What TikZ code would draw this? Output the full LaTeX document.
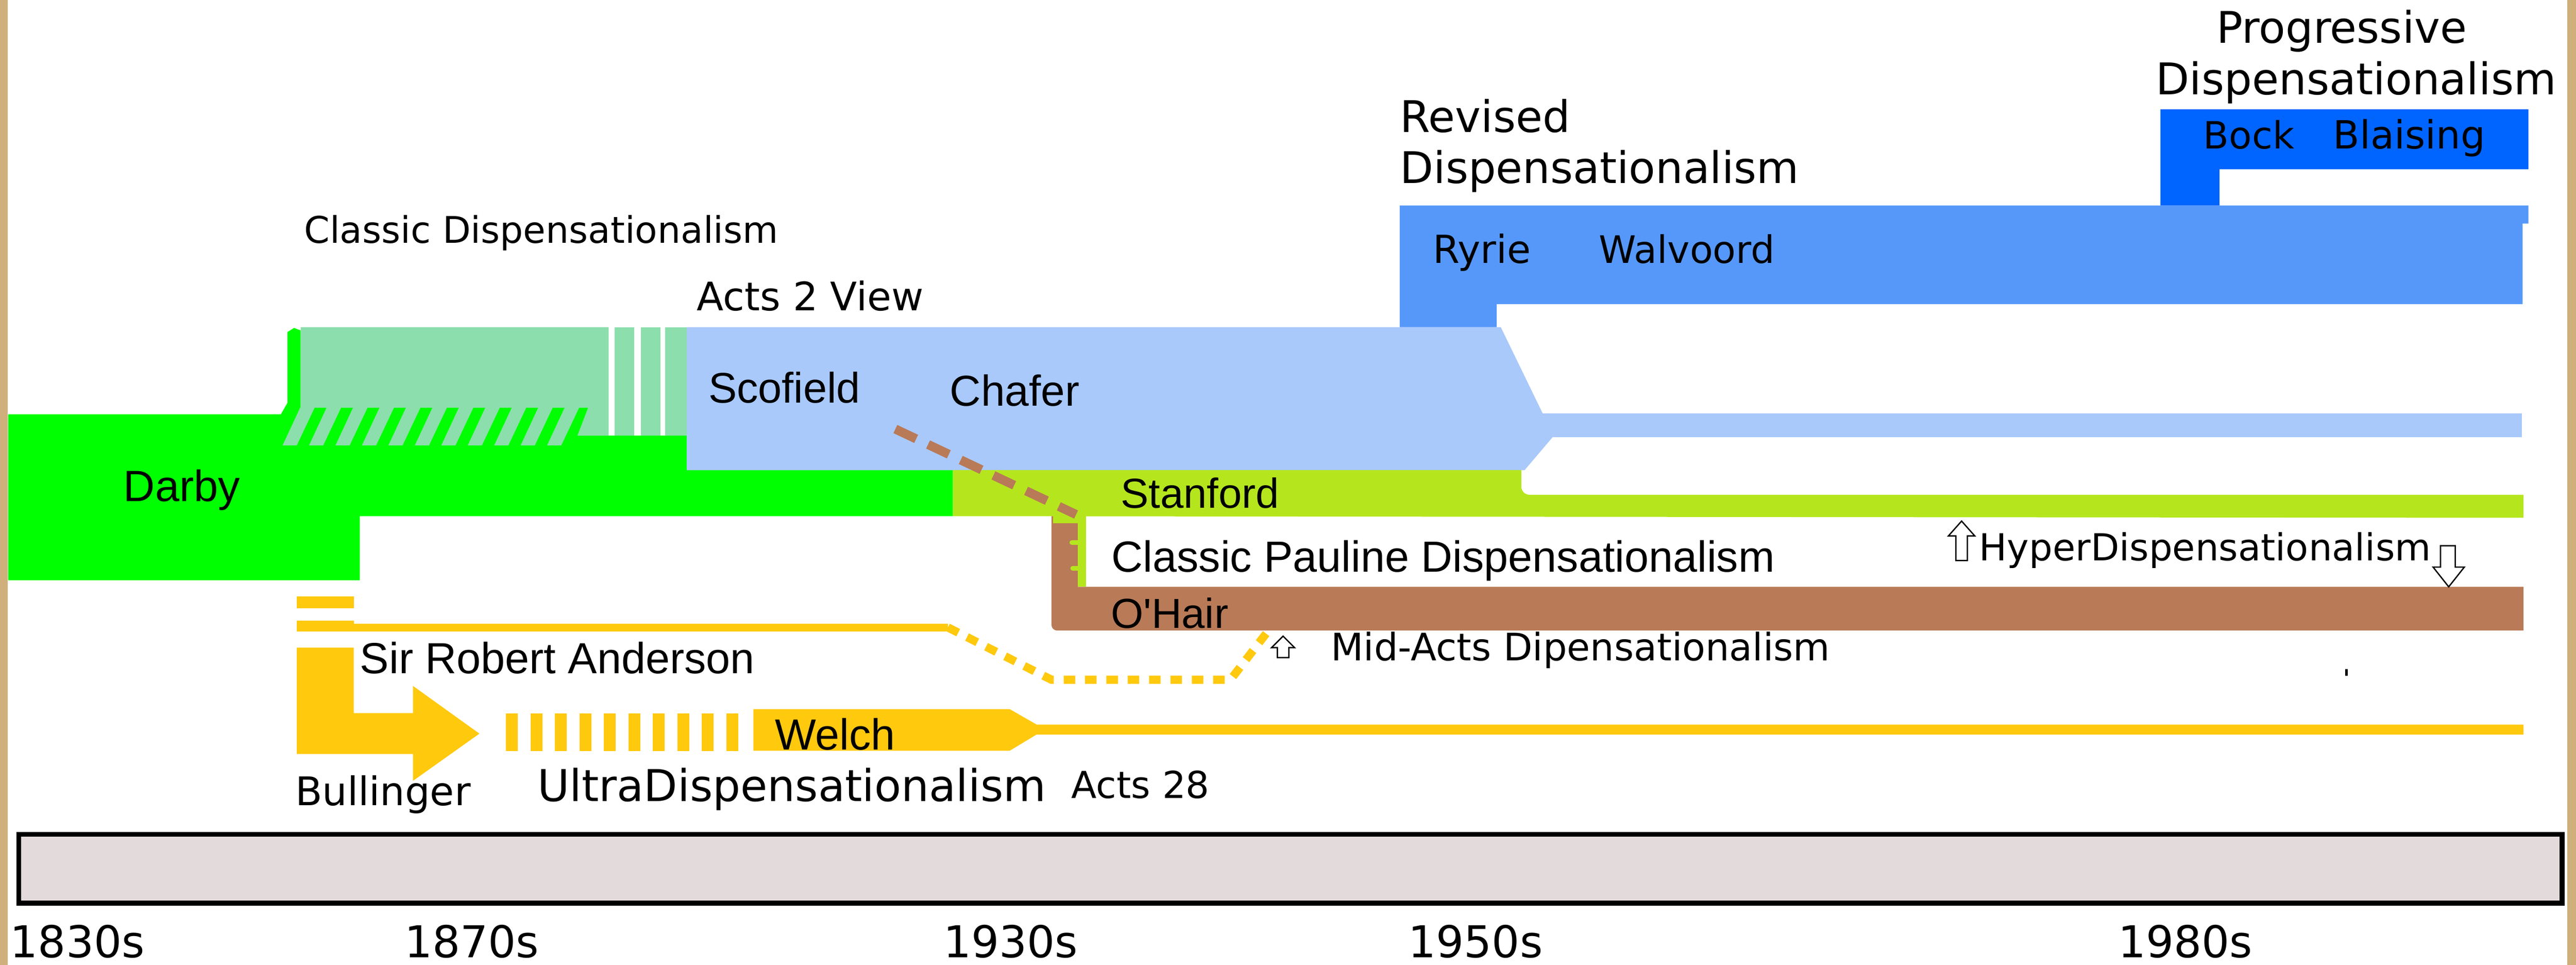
\documentclass[tikz,border=0pt]{standalone}
\usepackage{fontspec}
\newfontfamily\dv{DejaVu Sans}
\newfontfamily\lib{Liberation Sans}
\definecolor{brightgreen}{HTML}{00FF00}
\definecolor{lightgreen}{HTML}{8CDEAC}
\definecolor{actsblue}{HTML}{A9C9FB}
\definecolor{revblue}{HTML}{5698FA}
\definecolor{progblue}{HTML}{0064FF}
\definecolor{lime}{HTML}{B5E61D}
\definecolor{ohair}{HTML}{B97A57}
\definecolor{gold}{HTML}{FFC90E}
\definecolor{barfill}{HTML}{E2DADB}
\definecolor{wood}{HTML}{CFAF7C}
\begin{document}
\begin{tikzpicture}[x=1pt,y=-1pt,
  dvt/.style={anchor=base west, inner sep=0pt, font=\dv\fontsize{#1}{#1}\selectfont},
  art/.style={anchor=base west, inner sep=0pt, font=\lib\fontsize{#1}{#1}\selectfont},
  outarrow/.style={draw=black, line width=0.8pt, fill=white},
  yeardash/.style={draw=gold, line width=5pt, dash pattern=on 7pt off 6pt}]
\useasboundingbox (0,0) rectangle (1568,587);
\fill[white] (0,0) rectangle (1568,587);
% wooden side borders
\fill[wood] (0,0) rectangle (4.7,587);
\fill[wood] (1562.7,0) rectangle (1568,587);

% ---- Darby / classic green ----
\fill[brightgreen] (5,252) -- (171,252) -- (175,245) -- (175,203)
  to[out=-90,in=-90,looseness=0] (175,203) -- (175,202) -- (179,199.5) -- (183,201)
  -- (183,248) -- (358,248) -- (358,265) -- (580,265) -- (580,314)
  -- (219,314) -- (219,353) -- (5,353) -- cycle;
% classic dispensationalism light green block
\fill[lightgreen] (183,199) -- (370.5,199) -- (370.5,265) -- (351.5,265) -- (358,248) -- (183,248) -- cycle;
\fill[lightgreen] (374,199) rectangle (386,265);
\fill[lightgreen] (390,199) rectangle (402,265);
\fill[lightgreen] (405,199) rectangle (418,265);
% hatch stripes
\foreach \k in {0,...,10}{
  \fill[lightgreen] ({172+16.1*\k},271) -- ({180.6+16.1*\k},271) -- ({191.5+16.1*\k},248) -- ({182.7+16.1*\k},248) -- cycle;
}

% ---- Acts 2 light blue ----
\fill[actsblue] (418,199) -- (913.5,199) -- (939,251.5) -- (1535,251.5) -- (1535,266)
  -- (945,266) -- (928,286) -- (418,286) -- cycle;

% ---- Revised blue ----
\fill[revblue] (852,125) -- (1539,125) -- (1539,136) -- (1535.5,136) -- (1535.5,185)
  -- (911,185) -- (911,199) -- (852,199) -- cycle;
% ---- Progressive blue ----
\fill[progblue] (1315,66.5) -- (1539,66.5) -- (1539,103) -- (1351,103) -- (1351,125) -- (1315,125) -- cycle;

% ---- Stanford lime ----
\fill[lime] (580,286) -- (926,286) -- (926,296) to[out=-90,in=180] (931,301) -- (1536,301)
  -- (1536,315) -- (580,314) -- cycle;

% ---- O'Hair brown ----
\fill[ohair] (640,314) -- (656,314) -- (656,357) -- (1536,357) -- (1536,383.6)
  -- (643.5,383.6) to[out=180,in=-90] (640,380) -- cycle;
\fill[lime] (656,313.5) rectangle (661,357);
\fill[lime] (641,313.5) rectangle (660,318.3);
\draw[lime, line width=3pt, line cap=round] (652.5,330) -- (656,330);
\draw[lime, line width=3pt, line cap=round] (653,345.7) -- (656,345.7);
% brown dashed link Chafer -> O'Hair
\coordinate (bdA) at (545,261);
\coordinate (bdB) at (655,313);
\draw[ohair, line width=5.5pt, dash pattern=on 14pt off 8pt] (bdA) -- (bdB);

% ---- yellow: Anderson / Bullinger / Welch ----
\fill[gold] (180.7,362.8) rectangle (215.3,369.9);
\fill[gold] (180.7,377.7) rectangle (215.3,384.3);
\fill[gold] (215.3,379.5) rectangle (577,384);
\coordinate (ydA) at (577,381.7);
\coordinate (ydB) at (640,413.5);
\coordinate (ydC) at (749,413.5);
\coordinate (ydD) at (771,385);
\draw[yeardash] (ydA) -- (ydB) -- (ydC) -- (ydD);
% Bullinger arrow
\fill[gold] (180.7,394) -- (215.3,394) -- (215.3,433.8) -- (251.4,433.8) -- (251.4,417.3)
  -- (291.8,446.3) -- (251.4,475) -- (251.4,458.7) -- (180.7,458.7) -- cycle;
% UltraDispensationalism stripes
\foreach \k in {0,...,9}{
  \fill[gold] ({308+14.9*\k},434) rectangle ({315.2+14.9*\k},457);
}
% Welch bar tapering into line
\fill[gold] (458.6,431.4) -- (614.6,431.4) -- (631,440.8) -- (1536,440.8) -- (1536,446.8)
  -- (631,446.8) -- (614.6,456.7) -- (458.6,456.7) -- cycle;

% ---- texts ----
\node[dvt=22.3] (tClassic) at (185,148) {Classic Dispensationalism};
\node[dvt=23.9] (tActs2) at (424,189) {Acts 2 View};
\node[dvt=26.5] (tRev1) at (852,80.5) {Revised};
\node[dvt=26.5] (tRev2) at (852,111.5) {Dispensationalism};
\node[dvt=26.5] (tProg1) at (1349,26.3) {Progressive};
\node[dvt=26.6] (tProg2) at (1312,57.6) {Dispensationalism};
\node[dvt=22.8] (tBock) at (1341,90.4) {Bock};
\node[dvt=23.6] (tBlaising) at (1420,90.4) {Blaising};
\node[dvt=23.5] (tRyrie) at (872,160) {Ryrie};
\node[dvt=23] (tWalvoord) at (973,160) {Walvoord};
\node[art=26] (tScofield) at (431,245) {Scofield};
\node[art=26.3] (tChafer) at (578,247) {Chafer};
\node[art=26.6] (tDarby) at (75,305) {Darby};
\node[art=25.5] (tStanford) at (682,309) {Stanford};
\node[art=26.5] (tPauline) at (676.5,348) {Classic Pauline Dispensationalism};
\node[art=25.5] (tOHair) at (676,382) {O'Hair};
\node[art=26.5] (tAnderson) at (219,409.6) {Sir Robert Anderson};
\node[art=26.5] (tWelch) at (471.5,456) {Welch};
\node[dvt=24] (tBullinger) at (179.5,490) {Bullinger};
\node[dvt=26.7] (tUltra) at (327,487.6) {UltraDispensationalism};
\node[dvt=22.6] (tActs28) at (652,485.5) {Acts 28};
\node[dvt=22.6] (tHyper) at (1204.5,341) {HyperDispensationalism};
\node[dvt=23] (tMidActs) at (810,402) {Mid-Acts Dipensationalism};

% outline arrows
\draw[outarrow] (1194,317) -- (1202,326) -- (1197.5,326) -- (1197.5,341) -- (1190.5,341) -- (1190.5,326) -- (1186,326) -- cycle;
\draw[outarrow] (1490.5,357) -- (1500,345) -- (1494.5,345) -- (1494.5,332) -- (1485.5,332) -- (1485.5,345) -- (1481,345) -- cycle;
\draw[outarrow] (781,387) -- (788,394) -- (784.5,394) -- (784.5,400) -- (777.5,400) -- (777.5,394) -- (774,394) -- cycle;
% tiny dot
\fill[black] (1427.5,407) rectangle (1429,411);

% ---- timeline ----
\node[draw=black, line width=3pt, fill=barfill, inner sep=0pt, minimum width=1548pt, minimum height=42pt, anchor=north west] (timeline) at (10,506) {};
\node[dvt=26.7] (y1830) at (6,582.5) {1830s};
\node[dvt=26.7] (y1870) at (246,582.5) {1870s};
\node[dvt=26.7] (y1930) at (574,582.5) {1930s};
\node[dvt=26.7] (y1950) at (857,582.5) {1950s};
\node[dvt=26.7] (y1980) at (1289,582.5) {1980s};
\end{tikzpicture}
\end{document}
